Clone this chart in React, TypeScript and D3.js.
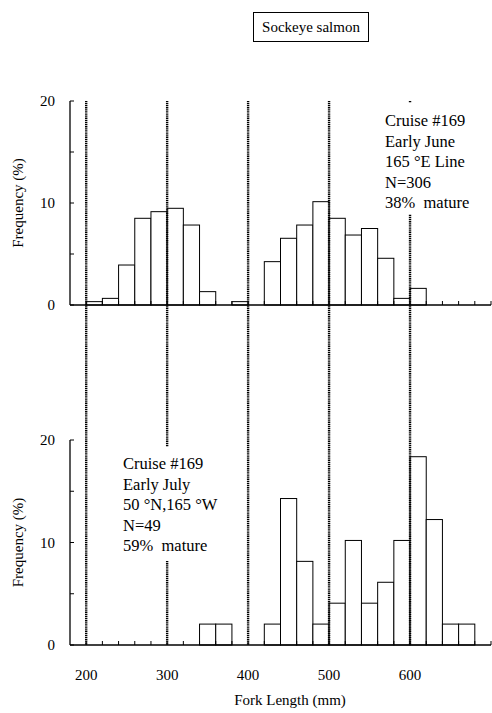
import { useRef, useEffect } from "react";
import * as d3 from "d3";

// bin starts (mm), bin width 20
const binStarts = [
  200, 220, 240, 260, 280, 300, 320, 340, 360, 380, 400, 420, 440, 460, 480,
  500, 520, 540, 560, 580, 600, 620, 640, 660, 680,
];
// % frequency, early June (N=306)
const juneFreq = [
  0.33, 0.65, 3.92, 8.5, 9.15, 9.48, 7.84, 1.31, 0, 0.33, 0, 4.25, 6.54, 7.84,
  10.13, 8.5, 6.86, 7.5, 4.58, 0.65, 1.63, 0, 0, 0, 0,
];
// % frequency, early July (N=49)
const julyFreq = [
  0, 0, 0, 0, 0, 0, 0, 2.04, 2.04, 0, 0, 2.04, 14.29, 8.16, 2.04, 4.08, 10.2,
  4.08, 6.12, 10.2, 18.37, 12.24, 2.04, 2.04, 0,
];
const juneNotes = [
  "Cruise #169",
  "Early June",
  "165 \u00B0E Line",
  "N=306",
  "38%  mature",
];
const julyNotes = [
  "Cruise #169",
  "Early July",
  "50 \u00B0N,165 \u00B0W",
  "N=49",
  "59%  mature",
];
const refLines = [200, 300, 400, 500, 600];
const xTicks = [200, 300, 400, 500, 600];
const yLabelTicks = [0, 10, 20];

const FONT = "Liberation Serif, Times New Roman, Times, DejaVu Serif, serif";

export default function App() {
  const svgRef = useRef<SVGSVGElement>(null);

  useEffect(() => {
    document.body.style.margin = "0";
    if (!svgRef.current) return;
    const svg = d3.select(svgRef.current);
    svg.selectAll("*").remove();

    const width = 492;
    const height = 713;
    svg
      .attr("width", width)
      .attr("height", height)
      .attr("font-family", FONT);
    svg
      .append("rect")
      .attr("width", width)
      .attr("height", height)
      .attr("fill", "#fff");

    const x = d3.scaleLinear().domain([180, 700]).range([70, 491]);

    const panels = [
      {
        data: juneFreq,
        y: d3.scaleLinear().domain([0, 20]).range([305, 101]),
        notes: juneNotes,
        noteX: 385,
        noteY: 126,
        mask: { x0: 378, x1: 486, y0: 103, y1: 214 },
        tickLabels: false,
      },
      {
        data: julyFreq,
        y: d3.scaleLinear().domain([0, 20]).range([645, 440]),
        notes: julyNotes,
        noteX: 123,
        noteY: 469,
        mask: { x0: 116, x1: 232, y0: 447, y1: 561 },
        tickLabels: true,
      },
    ];

    panels.forEach((p) => {
      const g = svg.append("g");
      const [y0, y1] = p.y.range();

      // bars
      g.selectAll("rect.bar")
        .data(binStarts.map((b, i) => ({ b, v: p.data[i] })).filter((d) => d.v > 0))
        .join("rect")
        .attr("class", "bar")
        .attr("x", (d) => x(d.b))
        .attr("width", (d) => x(d.b + 20) - x(d.b))
        .attr("y", (d) => p.y(d.v))
        .attr("height", (d) => p.y(0) - p.y(d.v))
        .attr("fill", "#fff")
        .attr("stroke", "#000")
        .attr("stroke-width", 1);

      // axes lines
      g.append("line")
        .attr("x1", x(180))
        .attr("x2", x(700))
        .attr("y1", y0)
        .attr("y2", y0)
        .attr("stroke", "#000")
        .attr("stroke-width", 1.3);
      g.append("line")
        .attr("x1", x(180))
        .attr("x2", x(180))
        .attr("y1", y0)
        .attr("y2", y1)
        .attr("stroke", "#000")
        .attr("stroke-width", 1.3);

      // minor x ticks every 20 pointing up
      g.selectAll("line.xt")
        .data(d3.range(200, 701, 20))
        .join("line")
        .attr("class", "xt")
        .attr("x1", (d) => x(d))
        .attr("x2", (d) => x(d))
        .attr("y1", y0)
        .attr("y2", y0 - 4)
        .attr("stroke", "#000");

      // y ticks every 5 pointing right
      g.selectAll("line.yt")
        .data(d3.range(0, 21, 5))
        .join("line")
        .attr("class", "yt")
        .attr("x1", x(180))
        .attr("x2", x(180) + 4)
        .attr("y1", (d) => p.y(d))
        .attr("y2", (d) => p.y(d))
        .attr("stroke", "#000");

      g.selectAll("text.yl")
        .data(yLabelTicks)
        .join("text")
        .attr("class", "yl")
        .attr("x", 55)
        .attr("y", (d) => p.y(d) + 5)
        .attr("text-anchor", "end")
        .attr("font-size", 15)
        .text((d) => d);

      g.append("text")
        .attr("transform", `translate(23,${(y0 + y1) / 2}) rotate(-90)`)
        .attr("text-anchor", "middle")
        .attr("font-size", 15)
        .text("Frequency (%)");

      if (p.tickLabels) {
        g.selectAll("text.xl")
          .data(xTicks)
          .join("text")
          .attr("class", "xl")
          .attr("x", (d) => x(d))
          .attr("y", y0 + 35)
          .attr("text-anchor", "middle")
          .attr("font-size", 15)
          .text((d) => d);
      }
    });

    // dotted reference lines spanning both panels
    svg
      .append("g")
      .selectAll("line")
      .data(refLines)
      .join("line")
      .attr("x1", (d) => x(d))
      .attr("x2", (d) => x(d))
      .attr("y1", 101)
      .attr("y2", 645)
      .attr("stroke", "#000")
      .attr("stroke-width", 2.4)
      .attr("stroke-dasharray", "1.2,0.7");

    // annotations with white backing
    panels.forEach((p) => {
      svg
        .append("rect")
        .attr("x", p.mask.x0)
        .attr("y", p.mask.y0)
        .attr("width", p.mask.x1 - p.mask.x0)
        .attr("height", p.mask.y1 - p.mask.y0)
        .attr("fill", "#fff");
      svg
        .append("g")
        .selectAll("text")
        .data(p.notes)
        .join("text")
        .attr("x", p.noteX)
        .attr("y", (_d, i) => p.noteY + i * 20.6)
        .attr("font-size", 16.5)
        .attr("xml:space", "preserve")
        .style("white-space", "pre")
        .text((d) => d);
    });

    // title box
    svg
      .append("rect")
      .attr("x", 253.5)
      .attr("y", 12.5)
      .attr("width", 115)
      .attr("height", 29)
      .attr("fill", "#fff")
      .attr("stroke", "#000")
      .attr("stroke-width", 1);
    svg
      .append("text")
      .attr("x", 311)
      .attr("y", 32)
      .attr("text-anchor", "middle")
      .attr("font-size", 15)
      .text("Sockeye salmon");

    svg
      .append("text")
      .attr("x", 290)
      .attr("y", 705)
      .attr("text-anchor", "middle")
      .attr("font-size", 15)
      .text("Fork Length (mm)");

    return () => {
      svg.selectAll("*").remove();
    };
  }, []);

  return <svg ref={svgRef} style={{ display: "block" }} />;
}
